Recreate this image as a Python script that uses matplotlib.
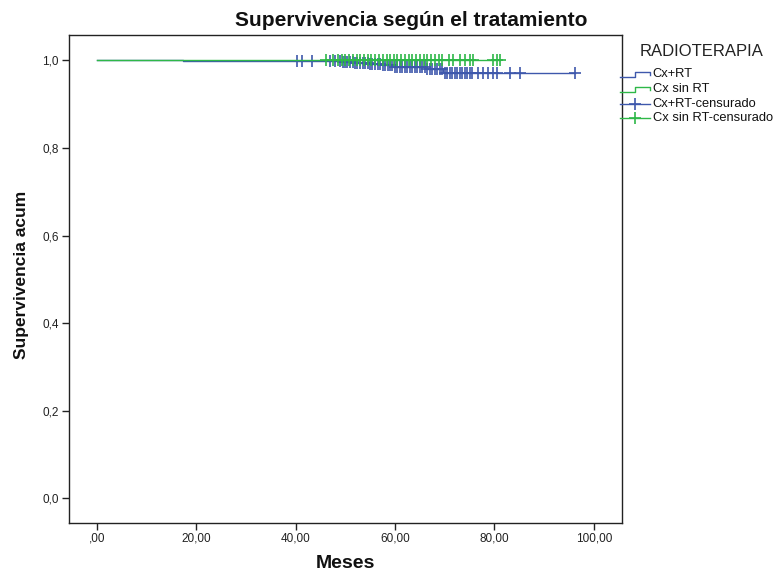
import matplotlib
matplotlib.use("Agg")
import matplotlib.pyplot as plt
from matplotlib.lines import Line2D
import numpy as np

# ---------------- data ----------------
title = "Supervivencia según el tratamiento"
xlabel = "Meses"
ylabel = "Supervivencia acum"
legend_title = "RADIOTERAPIA"
series_names = ["Cx+RT", "Cx sin RT", "Cx+RT-censurado", "Cx sin RT-censurado"]

x_ticks = [0, 20, 40, 60, 80, 100]
x_tick_labels = [",00", "20,00", "40,00", "60,00", "80,00", "100,00"]
y_ticks = [0.0, 0.2, 0.4, 0.6, 0.8, 1.0]
y_tick_labels = ["0,0", "0,2", "0,4", "0,6", "0,8", "1,0"]

# Cx+RT : step curve (event times, survival after each time)
rt_times = [0.0, 17.4, 49.5, 52.0, 55.0, 57.5, 59.6, 63.0, 66.4, 69.7, 96.2]
rt_surv = [1.0, 0.998, 0.996, 0.994, 0.992, 0.990, 0.986, 0.984, 0.981, 0.972, 0.972]
rt_censored = [40.3, 41.3, 43.3, 47.0, 48.0, 49.0, 49.5, 50.0, 50.4, 51.0, 51.5, 52.0,
               52.4, 53.0, 53.5, 54.0, 54.5, 55.0, 55.4, 56.0, 56.5, 57.0, 57.5, 58.0,
               58.5, 59.0, 59.4, 60.0, 60.5, 61.0, 61.5, 62.0, 62.5, 63.0, 63.5, 64.0,
               64.5, 65.0, 65.5, 66.0, 66.5, 67.0, 67.5, 68.0, 68.5, 69.0, 69.5, 70.0,
               70.5, 71.0, 71.5, 72.0, 72.5, 73.0, 73.5, 74.0, 74.5, 75.0, 75.5, 76.7,
               77.7, 78.7, 79.7, 80.5, 83.1, 85.1, 96.2]

# Cx sin RT : no events
nort_times = [0.0, 81.1]
nort_surv = [1.0, 1.0]
nort_censored = [46.2, 47.5, 48.5, 49.3, 50.0, 50.8, 51.5, 52.3, 53.0, 53.7, 54.5, 55.2,
                 56.0, 56.8, 57.5, 58.3, 59.0, 59.7, 60.5, 61.3, 62.0, 62.8, 63.5, 64.3,
                 65.0, 65.8, 66.5, 67.3, 68.0, 68.8, 69.5, 70.8, 71.6, 73.0, 74.0, 75.0,
                 75.7, 79.8, 80.5, 81.1]

# ---------------- style ----------------
BLUE = "#3E58AC"
GREEN = "#2EB848"
W, H = 777, 575
plt.rcParams['font.family'] = ['Liberation Sans', 'DejaVu Sans']

fig = plt.figure(figsize=(W / 100, H / 100), dpi=100)
ax = fig.add_axes([69 / W, 1 - 522.5 / H, (621.7 - 69) / W, (522.5 - 35) / H])


def surv_at(times, surv, t):
    idx = np.searchsorted(np.asarray(times), t, side="right") - 1
    return np.asarray(surv)[idx]


ax.step(rt_times, rt_surv, where="post", color=BLUE, lw=1.0, zorder=3)
ax.plot(rt_censored, surv_at(rt_times, rt_surv, rt_censored), linestyle="none",
        marker="+", ms=8, mew=1.2, color=BLUE, zorder=3)
ax.step(nort_times, nort_surv, where="post", color=GREEN, lw=1.0, zorder=4)
ax.plot(nort_censored, surv_at(nort_times, nort_surv, nort_censored), linestyle="none",
        marker="+", ms=8, mew=1.2, color=GREEN, zorder=4)

ax.set_xlim(-5.57, 105.6)
ax.set_ylim(-0.055, 1.058)
ax.set_xticks(x_ticks)
ax.set_xticklabels(x_tick_labels)
ax.set_yticks(y_ticks)
ax.set_yticklabels(y_tick_labels)
ax.tick_params(direction="out", length=5, width=1.0, colors="#222222",
               labelsize=8.5, pad=2.5)
for s in ax.spines.values():
    s.set_linewidth(1.0)
    s.set_color("#222222")

fig.text(411 / W, 1 - 21 / H, title, ha="center", va="center",
         fontsize=15, fontweight="bold", color="#111111")
fig.text(345 / W, 1 - 564 / H, xlabel, ha="center", va="center",
         fontsize=14, fontweight="bold", color="#111111")
fig.text(22 / W, 1 - 275 / H, ylabel, ha="center", va="center", rotation=90,
         fontsize=12.5, fontweight="bold", color="#111111")

# ---------------- legend (drawn manually) ----------------
def fx(x):
    return x / W


def fy(y):
    return 1 - y / H


fig.text(fx(640), fy(52), legend_title, ha="left", va="center", fontsize=12, color="#222222")
entry_y = [74.3, 89.3, 104.0, 118.3]
colors = [BLUE, GREEN, BLUE, GREEN]
for i, (name, yy, c) in enumerate(zip(series_names, entry_y, colors)):
    if i < 2:
        xs = [620, 635, 635, 650, 650]
        ys = [yy + 3, yy + 3, yy - 2, yy - 2, yy + 1]
        fig.add_artist(Line2D([fx(v) for v in xs], [fy(v) for v in ys], color=c, lw=1.0))
    else:
        fig.add_artist(Line2D([fx(620), fx(650)], [fy(yy), fy(yy)], color=c, lw=1.0))
        fig.add_artist(Line2D([fx(635)], [fy(yy)], color=c, marker="+", ms=8, mew=1.2,
                              linestyle="none"))
    fig.text(fx(652.7), fy(yy), name, ha="left", va="center", fontsize=9.3, color="#111111")

fig.savefig("out.png", dpi=100)
